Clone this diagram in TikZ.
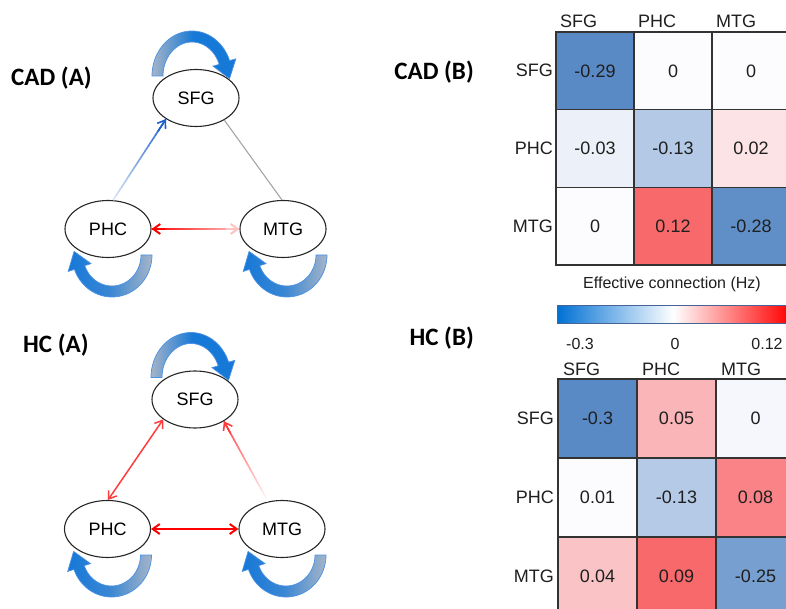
\documentclass[tikz,border=0pt]{standalone}
\usepackage{fontspec}
\setmainfont{Liberation Sans}
\newfontfamily\headfont{Carlito}
\usetikzlibrary{arrows.meta,calc,shapes.geometric}

% Excel-style three-colour scale
\definecolor{lowc}{RGB}{90,138,198}
\definecolor{midc}{RGB}{252,252,255}
\definecolor{highc}{RGB}{248,105,107}
% self-connection bands
\definecolor{looptail}{RGB}{165,180,200}
\definecolor{loophead}{RGB}{22,120,215}
\definecolor{loopedge}{RGB}{75,145,228}
% connectors
\definecolor{linkred}{RGB}{255,0,0}
\definecolor{softred}{RGB}{255,60,60}
\definecolor{linkpink}{RGB}{255,195,195}
\definecolor{linkblue}{RGB}{30,95,205}
\definecolor{paleblue}{RGB}{220,232,248}
\definecolor{greyline}{RGB}{165,165,165}
% colour bar
\definecolor{barblue}{RGB}{0,112,212}
\definecolor{barred}{RGB}{255,0,0}
\definecolor{barframe}{RGB}{70,100,150}

\tikzset{
  region/.style={ellipse, draw=black!85, line width=1.1pt, minimum width=86pt,
    minimum height=57pt, inner sep=0pt, font=\fontsize{18}{21}\selectfont},
  panel/.style={font=\headfont\bfseries\fontsize{25}{28}\selectfont, inner sep=0pt},
  cell/.style={draw=black!80, line width=1.3pt, inner sep=0pt, text=black!88,
    font=\fontsize{18}{21}\selectfont},
  cadcell/.style={cell, minimum width=78pt, minimum height=77.7pt},
  hccell/.style={cell, minimum width=79pt, minimum height=79pt},
  axislabel/.style={inner sep=0pt, text=black!88, font=\fontsize{18}{21}\selectfont},
  ticklabel/.style={inner sep=0pt, text=black!88, font=\fontsize{16}{18}\selectfont},
  looppaint/.style={draw=loopedge, line width=0.7pt},
  barb/.tip={Straight Barb[length=7pt,width=10pt]}
}

% band arching over a node, head pointing down on its right
\newcommand\toploop[1]{%
  \begin{scope}[shift={($(#1)+(-4,-22)$)}]
    \shadedraw[looppaint, left color=looptail, right color=loophead, middle color=loophead]
      plot[domain=180:340, samples=40] ({40*cos(\x)},{45*sin(\x)})
      -- (43.8,-17.1) -- (37.5,2.7) -- (21.0,-9.9)
      -- plot[domain=340:180, samples=40] ({29*cos(\x)},{34*sin(\x)}) -- cycle;
  \end{scope}}

% band hanging under a node, head pointing up on its left
\newcommand\bottomloop[1]{%
  \begin{scope}[shift={($(#1)+(4,26)$)}]
    \shadedraw[looppaint, left color=loophead, right color=looptail, middle color=loophead!75!looptail]
      plot[domain=0:160, samples=40] ({40*cos(\x)},{42*sin(\x)})
      -- (-43.8,16.4) -- (-37.9,-3.6) -- (-21.0,8.6)
      -- plot[domain=160:0, samples=40] ({29*cos(\x)},{31*sin(\x)}) -- cycle;
  \end{scope}}

% straight connector whose colour fades from #3 to #4
\newcommand\fadeline[5]{%
  \foreach \i in {0,...,29}{%
    \pgfmathsetmacro\ta{\i/30}%
    \pgfmathsetmacro\tb{min(1,(\i+1.15)/30)}%
    \pgfmathtruncatemacro\p{100*(\i+0.5)/30}%
    \draw[line width=#5, color=#4!\p!#3]
      ($(#1)!\ta!(#2)$) -- ($(#1)!\tb!(#2)$);
  }}

\begin{document}
\begin{tikzpicture}[x=1pt, y=-1pt]
\path[use as bounding box] (0,0) rectangle (786,609);
\clip (0,0) rectangle (786,609);
\fill[white] (0,0) rectangle (786,609);

% ---------------- CAD network ----------------
\node[panel, anchor=west] (cadA) at (11,78) {CAD (A)};
\node[region] (cadsfg) at (196,98) {SFG};
\node[region] (cadphc) at (108,229) {PHC};
\node[region] (cadmtg) at (283,229) {MTG};

\toploop{cadsfg}
\bottomloop{cadphc}
\bottomloop{cadmtg}

\fadeline{cadphc.80}{cadsfg.215}{paleblue}{linkblue}{1.6pt}
\draw[linkblue, line width=1.6pt, -{barb}] ($(cadphc.80)!0.85!(cadsfg.215)$) -- (cadsfg.215);
\draw[greyline, line width=1.1pt] (cadsfg.322) -- (cadmtg.92);
\fadeline{cadphc.east}{cadmtg.west}{linkred}{linkpink}{2pt}
\draw[linkred, line width=2pt, -{barb}] ($(cadmtg.west)!0.85!(cadphc.east)$) -- (cadphc.east);
\draw[linkpink, line width=2pt, -{barb}] ($(cadphc.east)!0.85!(cadmtg.west)$) -- (cadmtg.west);

% ---------------- HC network ----------------
\node[panel, anchor=west] (hcA) at (23,345) {HC (A)};
\node[region] (hcsfg) at (195,399.5) {SFG};
\node[region] (hcphc) at (107.5,529) {PHC};
\node[region] (hcmtg) at (282,529) {MTG};

\toploop{hcsfg}
\bottomloop{hcphc}
\bottomloop{hcmtg}

\draw[softred, line width=1.5pt, {barb}-{barb}] (hcsfg.212) -- (hcphc.89);
\fadeline{hcmtg.117}{hcsfg.323}{white}{softred}{1.6pt}
\draw[softred, line width=1.6pt, -{barb}] ($(hcmtg.117)!0.85!(hcsfg.323)$) -- (hcsfg.323);
\draw[linkred, line width=2pt, {barb}-{barb}] (hcphc.east) -- (hcmtg.west);

% ---------------- CAD matrix ----------------
\node[panel, anchor=east] (cadB) at (474,72) {CAD (B)};
\foreach \r/\c/\v/\f in {
  1/1/-0.29/lowc, 1/2/0/midc, 1/3/0/midc,
  2/1/-0.03/lowc!10!midc, 2/2/-0.13/lowc!45!midc, 2/3/0.02/highc!17!midc,
  3/1/0/midc, 3/2/0.12/highc, 3/3/-0.28/lowc!96!midc}{
  \node[cadcell, fill=\f] (cad\r\c) at ({556+78*(\c-0.5)},{32+77.7*(\r-0.5)}) {\v};
}
\node[axislabel, anchor=base west] (cadcolsfg) at (560,28) {SFG};
\node[axislabel, anchor=base west] (cadcolphc) at (638,28) {PHC};
\node[axislabel, anchor=base west] (cadcolmtg) at (716,28) {MTG};
\node[axislabel, anchor=east] (cadrowsfg) at (553,70.8) {SFG};
\node[axislabel, anchor=east] (cadrowphc) at (553,148.5) {PHC};
\node[axislabel, anchor=east] (cadrowmtg) at (553,226.2) {MTG};

% ---------------- colour bar ----------------
\node[ticklabel] (bartitle) at (672,284) {Effective connection (Hz)};
\shadedraw[draw=barframe, line width=0.8pt, left color=barblue, right color=barred, middle color=white]
  (557,305) rectangle (790,323);
\node[ticklabel] (tickmin) at (580,344) {-0.3};
\node[ticklabel] (tickzero) at (675,344) {0};
\node[ticklabel] (tickmax) at (767,344) {0.12};

% ---------------- HC matrix ----------------
\node[panel, anchor=east] (hcB) at (474,338) {HC (B)};
\foreach \r/\c/\v/\f in {
  1/1/-0.3/lowc, 1/2/0.05/highc!48!midc, 1/3/0/lowc!4!midc,
  2/1/0.01/midc, 2/2/-0.13/lowc!44!midc, 2/3/0.08/highc!82!midc,
  3/1/0.04/highc!38!midc, 3/2/0.09/highc, 3/3/-0.25/lowc!82!midc}{
  \node[hccell, fill=\f] (hc\r\c) at ({558+79*(\c-0.5)},{379+79*(\r-0.5)}) {\v};
}
\node[axislabel, anchor=base west] (hccolsfg) at (563,375) {SFG};
\node[axislabel, anchor=base west] (hccolphc) at (642,375) {PHC};
\node[axislabel, anchor=base west] (hccolmtg) at (721,375) {MTG};
\node[axislabel, anchor=east] (hcrowsfg) at (554,418.5) {SFG};
\node[axislabel, anchor=east] (hcrowphc) at (554,497.5) {PHC};
\node[axislabel, anchor=east] (hcrowmtg) at (554,576.5) {MTG};
\end{tikzpicture}
\end{document}
